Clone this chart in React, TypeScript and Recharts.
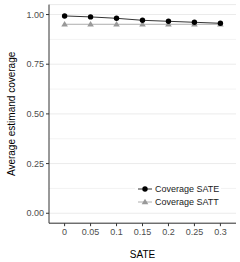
import { CartesianGrid, Line, LineChart, ReferenceLine, XAxis, YAxis } from "recharts";

const SATE_LEVELS = ["0", "0.05", "0.1", "0.15", "0.2", "0.25", "0.3"];
const COVERAGE_SATE = [0.993, 0.988, 0.981, 0.971, 0.966, 0.961, 0.956];
const COVERAGE_SATT = [0.951, 0.951, 0.951, 0.951, 0.951, 0.951, 0.951];
const Y_TICKS = [0, 0.25, 0.5, 0.75, 1];
const MINOR_GRID = [0.125, 0.375, 0.625, 0.875];

const FONT = "'Liberation Sans', Arial, sans-serif";
const SATT_GREY = "#999999";

const data = SATE_LEVELS.map((lvl, i) => ({
  sate: lvl,
  satePct: COVERAGE_SATE[i],
  sattPct: COVERAGE_SATT[i],
}));

function TriangleDot(props: any) {
  const { cx, cy } = props;
  if (cx == null || cy == null) return null;
  return (
    <path
      d={`M${cx},${cy - 3.2} L${cx + 3.3},${cy + 2.3} L${cx - 3.3},${cy + 2.3} Z`}
      fill={SATT_GREY}
    />
  );
}

function LegendBox() {
  const row = (label: string, color: string, tri: boolean) => (
    <div style={{ display: "flex", alignItems: "center", height: 12.7 }}>
      <svg width={16} height={10}>
        <line x1={1} x2={15} y1={5} y2={5} stroke={color} strokeWidth={0.8} />
        {tri ? (
          <path d="M8,1.8 L11.3,7.3 L4.7,7.3 Z" fill={color} />
        ) : (
          <circle cx={8} cy={5} r={2.7} fill={color} />
        )}
      </svg>
      <span style={{ marginLeft: 2, fontSize: 9, color: "#1a1a1a", fontFamily: FONT }}>{label}</span>
    </div>
  );
  return (
    <div style={{ position: "absolute", left: 135, top: 182.5, background: "#fff", padding: "0 2px" }}>
      {row("Coverage SATE", "#000000", false)}
      {row("Coverage SATT", SATT_GREY, true)}
    </div>
  );
}

export default function App() {
  return (
    <div style={{ position: "absolute", left: 0, top: 0, width: 240, height: 262, background: "#fff" }}>
      <LineChart width={240} height={262} data={data} margin={{ top: 4.6, right: 4, bottom: 0, left: 0 }}>
        <CartesianGrid vertical={false} stroke="#ebebeb" />
        {MINOR_GRID.map((v) => (
          <ReferenceLine key={v} y={v} stroke="#f3f3f3" strokeWidth={1} />
        ))}
        <XAxis
          dataKey="sate"
          padding={{ left: 15.6, right: 15.6 }}
          height={38.8}
          tickSize={3}
          stroke="#333333"
          tick={{ fontSize: 9, fill: "#4d4d4d", fontFamily: FONT }}
          tickLine={{ stroke: "#333333" }}
          label={{ value: "SATE", position: "insideBottom", offset: 4, fontSize: 10, fill: "#000", fontFamily: FONT }}
        />
        <YAxis
          domain={[-0.05, 1.05]}
          ticks={Y_TICKS}
          allowDataOverflow
          width={49}
          tickSize={3}
          stroke="#333333"
          tickFormatter={(v: number) => v.toFixed(2)}
          tick={{ fontSize: 9, fill: "#4d4d4d", fontFamily: FONT }}
          label={{
            value: "Average estimand coverage",
            angle: -90,
            position: "insideLeft",
            offset: 11,
            style: { textAnchor: "middle" },
            fontSize: 10,
            fill: "#000",
            fontFamily: FONT,
          }}
        />
        <Line
          dataKey="sattPct"
          stroke={SATT_GREY}
          strokeWidth={0.8}
          dot={<TriangleDot />}
          isAnimationActive={false}
        />
        <Line
          dataKey="satePct"
          stroke="#000000"
          strokeWidth={0.8}
          dot={{ r: 2.7, fill: "#000", stroke: "none" }}
          isAnimationActive={false}
        />
      </LineChart>
      <LegendBox />
    </div>
  );
}
